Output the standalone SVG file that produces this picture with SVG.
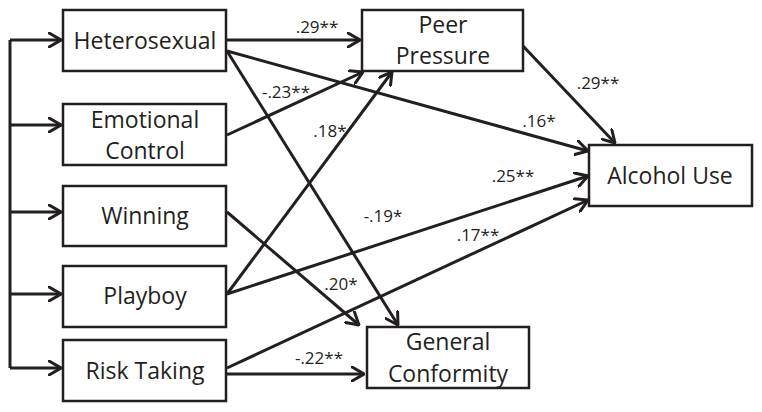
<svg xmlns="http://www.w3.org/2000/svg" width="762" height="412" viewBox="0 0 762 412">
<defs>
<marker id="ah" viewBox="0 0 14 16" refX="13" refY="8" markerWidth="14" markerHeight="16" markerUnits="userSpaceOnUse" orient="auto">
<path d="M1,1 L13,8 L1,15" fill="none" stroke="#231f20" stroke-width="3" stroke-linecap="round" stroke-linejoin="miter"/>
</marker>
</defs>
<style>
.box{fill:#fff;stroke:#231f20;stroke-width:2.5}
.t{font-family:"Open Sans","Liberation Sans",sans-serif;font-size:23px;fill:#231f20;text-anchor:middle}
.l{font-family:"Open Sans","Liberation Sans",sans-serif;font-size:17px;fill:#231f20;text-anchor:middle}
.c{fill:none;stroke:#231f20;stroke-width:3;marker-end:url(#ah)}
.p{fill:none;stroke:#231f20;stroke-width:3}
</style>
<rect width="762" height="412" fill="#fff"/>
<g id="connectors">
<path class="p" d="M10,40 V368"/>
<path class="c" d="M10,40 H61"/>
<path class="c" d="M10,125 H61"/>
<path class="c" d="M10,212 H61"/>
<path class="c" d="M10,294 H61"/>
<path class="c" d="M10,368 H61"/>
<path class="c" d="M227,40 H360"/>
<path class="c" d="M227,51 L588,151"/>
<path class="c" d="M227,51 L398,325"/>
<path class="c" d="M227,135 L363,72"/>
<path class="c" d="M227,294 L392,72"/>
<path class="c" d="M227,294 L588,176"/>
<path class="c" d="M227,212 L359,325"/>
<path class="c" d="M227,368 L588,200"/>
<path class="c" d="M227,374 H364"/>
<path class="c" d="M523,46 L615,143"/>
<text class="l" x="317" y="33">.29**</text>
<text class="l" x="286" y="98">-.23**</text>
<text class="l" x="330" y="137">.18*</text>
<text class="l" x="539" y="127">.16*</text>
<text class="l" x="598" y="89">.29**</text>
<text class="l" x="513" y="182">.25**</text>
<text class="l" x="383" y="222">-.19*</text>
<text class="l" x="341" y="290">.20*</text>
<text class="l" x="478" y="241">.17**</text>
<text class="l" x="319" y="364">-.22**</text>
</g>
<g id="heterosexual"><rect class="box" x="63" y="10" width="163" height="61"/><text class="t" x="145" y="49">Heterosexual</text></g>
<g id="emotional-control"><rect class="box" x="63" y="104" width="163" height="61"/><text class="t" x="145" y="128">Emotional</text><text class="t" x="145" y="159">Control</text></g>
<g id="winning"><rect class="box" x="63" y="186" width="163" height="60"/><text class="t" x="145" y="224">Winning</text></g>
<g id="playboy"><rect class="box" x="63" y="266" width="163" height="61"/><text class="t" x="145" y="304">Playboy</text></g>
<g id="risk-taking"><rect class="box" x="63" y="340" width="163" height="61"/><text class="t" x="145" y="379">Risk Taking</text></g>
<g id="peer-pressure"><rect class="box" x="362" y="10" width="161" height="61"/><text class="t" x="443" y="33">Peer</text><text class="t" x="443" y="64">Pressure</text></g>
<g id="alcohol-use"><rect class="box" x="589" y="145" width="163" height="61"/><text class="t" x="670" y="184">Alcohol Use</text></g>
<g id="general-conformity"><rect class="box" x="367" y="327" width="162" height="61"/><text class="t" x="448" y="350">General</text><text class="t" x="448" y="382">Conformity</text></g>
</svg>
